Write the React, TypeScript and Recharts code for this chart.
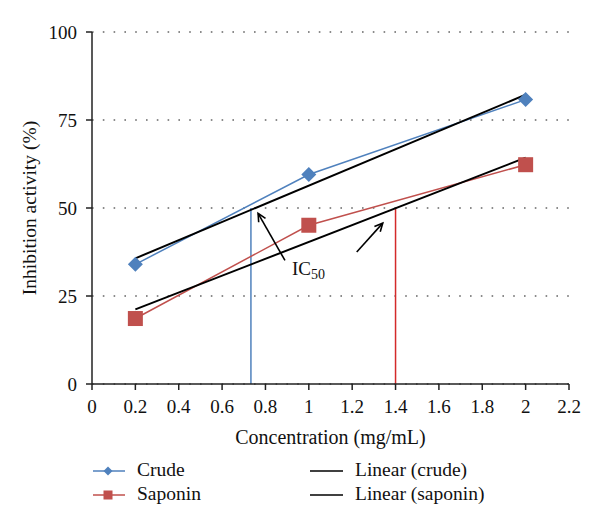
import React from 'react';
import {
  ComposedChart,
  Line,
  XAxis,
  YAxis,
  CartesianGrid,
  ReferenceLine,
  ReferenceDot,
  Legend,
} from 'recharts';

const concentration = [0.2, 1, 2];
const crude = [34.0, 59.5, 80.8];
const saponin = [18.6, 45.1, 62.3];
const trendX = [0.2, 2];
const trendCrude = [35.7, 82.2];
const trendSaponin = [21.2, 64.3];
const xTicks = [0, 0.2, 0.4, 0.6, 0.8, 1, 1.2, 1.4, 1.6, 1.8, 2, 2.2];
const yTicks = [0, 25, 50, 75, 100];
const ic50Crude = 0.733;
const ic50Saponin = 1.4;
const ic50Level = 50;
const arrowTails = [
  [0.89, 35.1],
  [1.221, 37.5],
];
const arrowHeads = [
  [0.766, 48.5],
  [1.341, 45.7],
];
const ic50LabelPos = [0.922, 30.9];

const BLUE = '#4F81BD';
const RED = '#C0504D';
const BRIGHT_RED = '#D42A2A';
const FONT = 'Liberation Serif, DejaVu Serif, serif';

const crudeData = concentration.map((x, i) => ({ x, y: crude[i] }));
const saponinData = concentration.map((x, i) => ({ x, y: saponin[i] }));
const trendCrudeData = trendX.map((x, i) => ({ x, y: trendCrude[i] }));
const trendSaponinData = trendX.map((x, i) => ({ x, y: trendSaponin[i] }));

const Diamond = (props: any) => {
  const { cx, cy, index } = props;
  if (cx == null || cy == null) return <g key={`d${index}`} />;
  const r = 7.5;
  return (
    <path
      key={`d${index}`}
      d={`M${cx},${cy - r} L${cx + r},${cy} L${cx},${cy + r} L${cx - r},${cy} Z`}
      fill={BLUE}
    />
  );
};

const Square = (props: any) => {
  const { cx, cy, index } = props;
  if (cx == null || cy == null) return <g key={`s${index}`} />;
  const r = 7.5;
  return <rect key={`s${index}`} x={cx - r} y={cy - r} width={2 * r} height={2 * r} fill={RED} />;
};

const Arrow = (props: any) => {
  const { x1, y1, x2, y2 } = props;
  const ang = Math.atan2(y2 - y1, x2 - x1);
  const len = 9;
  const spread = 0.45;
  const ax = x2 - len * Math.cos(ang - spread);
  const ay = y2 - len * Math.sin(ang - spread);
  const bx = x2 - len * Math.cos(ang + spread);
  const by = y2 - len * Math.sin(ang + spread);
  return (
    <g>
      <line x1={x1} y1={y1} x2={x2} y2={y2} stroke="#000" strokeWidth={1.6} />
      <polyline
        points={`${ax},${ay} ${x2},${y2} ${bx},${by}`}
        fill="none"
        stroke="#000"
        strokeWidth={1.6}
      />
    </g>
  );
};

const IC50Label = (props: any) => {
  const { cx, cy } = props;
  return (
    <text x={cx} y={cy} fontFamily={FONT} fontSize={19} fill="#111">
      IC
      <tspan dy={4} fontSize={14}>
        50
      </tspan>
    </text>
  );
};

const renderLegend = () => (
  <svg width={584} height={70} style={{ display: 'block' }}>
    <g fontFamily={FONT} fontSize={19.5} fill="#111">
      <line x1={85} y1={23} x2={117} y2={23} stroke={BLUE} strokeWidth={1.5} />
      <path d="M100,18.5 L104.5,23 L100,27.5 L95.5,23 Z" fill={BLUE} />
      <text x={129} y={28}>Crude</text>
      <line x1={85} y1={47} x2={117} y2={47} stroke={RED} strokeWidth={1.5} />
      <rect x={95.5} y={42.5} width={9} height={9} fill={RED} />
      <text x={129} y={52}>Saponin</text>
      <line x1={302} y1={23} x2={335} y2={23} stroke="#000" strokeWidth={1.6} />
      <text x={347} y={28}>Linear (crude)</text>
      <line x1={302} y1={47} x2={335} y2={47} stroke="#000" strokeWidth={1.6} />
      <text x={347} y={52}>Linear (saponin)</text>
    </g>
  </svg>
);

export default function App() {
  return (
    <div style={{ width: 584, height: 511, fontFamily: FONT }}>
      <ComposedChart
        width={584}
        height={511}
        margin={{ top: 24, right: 23, left: 0, bottom: 73 }}
      >
        <CartesianGrid
          horizontal={true}
          vertical={false}
          stroke="#666"
          strokeDasharray="1.6 9.2"
          strokeWidth={1.6}
        />
        <XAxis
          dataKey="x"
          type="number"
          domain={[0, 2.2]}
          ticks={xTicks}
          interval={0}
          allowDataOverflow
          height={62}
          tickSize={6}
          tickMargin={10}
          stroke="#222"
          strokeWidth={1.5}
          tick={{ fontSize: 19, fill: '#111', fontFamily: FONT }}
          label={{
            value: 'Concentration (mg/mL)',
            position: 'insideBottom',
            offset: 2,
            fontSize: 20,
            fill: '#111',
            fontFamily: FONT,
          }}
        />
        <YAxis
          type="number"
          domain={[0, 100]}
          ticks={yTicks}
          interval={0}
          width={84}
          tickSize={6}
          tickMargin={9}
          stroke="#222"
          strokeWidth={1.5}
          tick={{ fontSize: 19, fill: '#111', fontFamily: FONT }}
          label={{
            content: (p: any) => {
              const vb = p.viewBox || { x: 0, y: 24, width: 84, height: 352 };
              const x = vb.x + 28;
              const y = vb.y + vb.height / 2;
              return (
                <text
                  x={x}
                  y={y}
                  transform={`rotate(-90, ${x}, ${y})`}
                  textAnchor="middle"
                  fontSize={19.5}
                  fill="#111"
                  fontFamily={FONT}
                >
                  Inhibition activity (%)
                </text>
              );
            },
          }}
        />
        <ReferenceLine
          segment={[
            { x: ic50Crude, y: 0 },
            { x: ic50Crude, y: ic50Level },
          ]}
          stroke={BLUE}
          strokeWidth={1.5}
        />
        <ReferenceLine
          segment={[
            { x: ic50Saponin, y: 0 },
            { x: ic50Saponin, y: ic50Level },
          ]}
          stroke={BRIGHT_RED}
          strokeWidth={1.5}
        />
        <Line
          data={crudeData}
          dataKey="y"
          stroke={BLUE}
          strokeWidth={1.5}
          dot={Diamond}
          activeDot={false}
          isAnimationActive={false}
          legendType="none"
        />
        <Line
          data={saponinData}
          dataKey="y"
          stroke={RED}
          strokeWidth={1.5}
          dot={Square}
          activeDot={false}
          isAnimationActive={false}
          legendType="none"
        />
        <Line
          data={trendCrudeData}
          dataKey="y"
          stroke="#000"
          strokeWidth={2}
          dot={false}
          activeDot={false}
          isAnimationActive={false}
          legendType="none"
        />
        <Line
          data={trendSaponinData}
          dataKey="y"
          stroke="#000"
          strokeWidth={2}
          dot={false}
          activeDot={false}
          isAnimationActive={false}
          legendType="none"
        />
        {arrowTails.map((t, i) => (
          <ReferenceLine
            key={`arrow${i}`}
            segment={[
              { x: t[0], y: t[1] },
              { x: arrowHeads[i][0], y: arrowHeads[i][1] },
            ]}
            shape={Arrow}
          />
        ))}
        <ReferenceDot
          x={ic50LabelPos[0]}
          y={ic50LabelPos[1]}
          r={0}
          shape={IC50Label}
        />
        <Legend
          layout="horizontal"
          verticalAlign="middle"
          align="center"
          wrapperStyle={{ top: 440, left: 0, width: 584, height: 70 }}
          content={renderLegend}
        />
      </ComposedChart>
    </div>
  );
}
